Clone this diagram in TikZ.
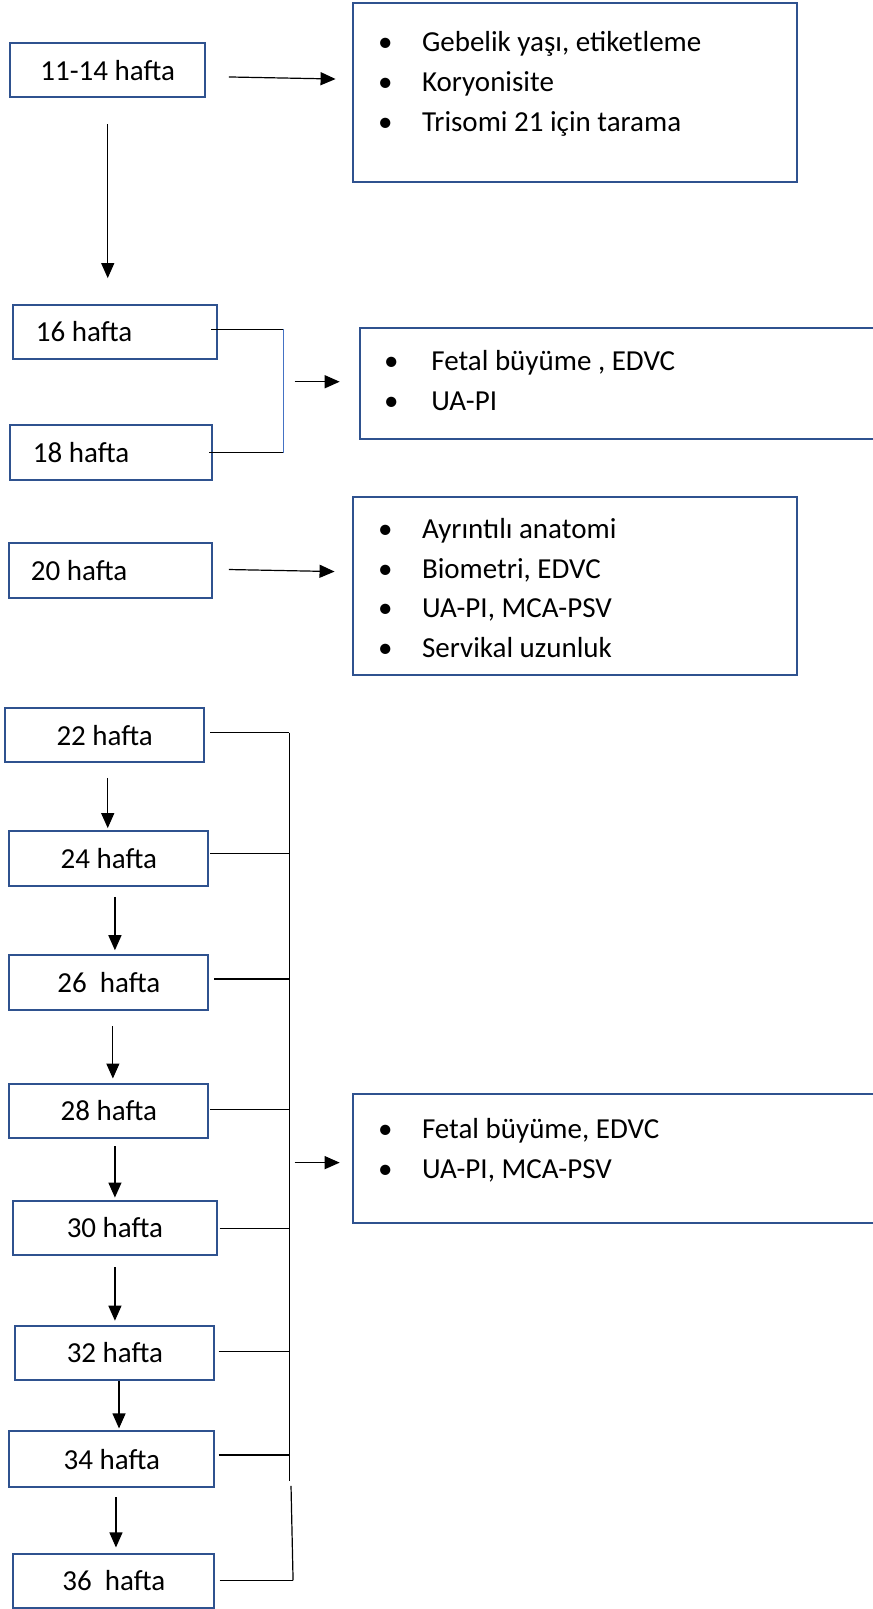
\documentclass[tikz,border=0pt]{standalone}
\usepackage{fontspec}
\setmainfont{Carlito}
\usetikzlibrary{calc,arrows.meta}
\definecolor{boxblue}{RGB}{47,82,143}
\definecolor{linkblue}{RGB}{68,114,196}
\newcommand{\dpx}{0.51295pt}
\begin{document}
\begin{tikzpicture}[x=0.51295pt,y=-0.51295pt,
  font=\fontsize{14.5}{17}\selectfont,
  wbox/.style={draw=boxblue,line width=1pt,inner sep=0pt,minimum height=53*\dpx},
  cbox/.style={wbox,minimum width=#1*\dpx},
  lbox/.style={wbox,inner xsep=#1*\dpx},
  rbox/.style 2 args={draw=boxblue,line width=1pt,inner sep=0pt,minimum width=#1*\dpx,minimum height=#2*\dpx},
  item/.style={anchor=base west,inner sep=0pt},
  link/.style={draw=black,line width=0.6pt},
  arr/.style={link,-{Triangle[length=7.5pt,width=6.5pt]}}]
\useasboundingbox (0,0) rectangle (850,1568);
% ---- 11-14
\node[cbox=190] (a) at (105,68.5) {11-14 hafta};
\node[rbox={433}{174}] (r1) at (560.5,90) {};
\node[item] (r1a) at (368,50) {\makebox[22pt][l]{\textbullet}Gebelik yaşı, etiketleme};
\node[item] (r1b) at (368,89) {\makebox[22pt][l]{\textbullet}Koryonisite};
\node[item] (r1c) at (368,128) {\makebox[22pt][l]{\textbullet}Trisomi 21 için tarama};
\draw[arr] ($(a.east)+(22,6.5)$) -- ($(r1.west)+(-16,-13)$);
% ---- 16 / 18
\node[lbox=22] (b16) at (112,323.5) {\makebox[79pt][l]{16 hafta}};
\node[lbox=22] (b18) at (108.5,441) {\makebox[78.5pt][l]{18 hafta}};
\draw[arr] ($(a.south)+(0,25)$) -- ($(b16.north)+(-7,-25)$);
\coordinate (k1) at (276,321);
\coordinate (k2) at (276,441);
\draw[link] ($(b16.east)+(-6,-2.5)$) -- (k1);
\draw[link] ($(b18.east)+(-4,0)$) -- (k2);
\draw[draw=linkblue,line width=0.6pt] (k1) -- (k2);
\node[rbox={520}{108}] (r2) at (611,374) {};
\node[item] (r2a) at (374,361) {\makebox[23.6pt][l]{\textbullet}Fetal büyüme , EDVC};
\node[item] (r2b) at (374,400) {\makebox[23.6pt][l]{\textbullet}UA-PI};
\coordinate (j2) at (287,372);
\draw[arr] (j2) -- ($(r2.west)+(-19,-2)$);
% ---- 20
\node[lbox=21] (b20) at (108,556) {\makebox[80pt][l]{20 hafta}};
\node[rbox={433}{174}] (r3) at (560.5,571) {};
\node[item] (r3a) at (368,525) {\makebox[22pt][l]{\textbullet}Ayrıntılı anatomi};
\node[item] (r3b) at (368,564) {\makebox[22pt][l]{\textbullet}Biometri, EDVC};
\node[item] (r3c) at (368,602) {\makebox[22pt][l]{\textbullet}UA-PI, MCA-PSV};
\node[item] (r3d) at (368,641) {\makebox[22pt][l]{\textbullet}Servikal uzunluk};
\draw[arr] ($(b20.east)+(15,-1)$) -- ($(r3.west)+(-17,-14)$);
% ---- 22 .. 36
\node[cbox=194] (b22) at (102,716.5) {22 hafta};
\node[cbox=194] (b24) at (106,836.5) {24 hafta};
\node[cbox=194] (b26) at (106,957.5) {26\ \ hafta};
\node[cbox=194] (b28) at (106,1082.5) {28 hafta};
\node[cbox=198] (b30) at (112,1196.5) {30 hafta};
\node[cbox=194] (b32) at (112,1318.5) {32 hafta};
\node[cbox=200,minimum height=54*\dpx] (b34) at (109,1422) {34 hafta};
\node[cbox=196] (b36) at (111,1540.5) {36\ \ hafta};
\draw[arr] ($(b22.south)+(3,14)$) -- ($(b24.north)+(-1,-2)$);
\draw[arr] ($(b24.south)+(6,10)$) -- ($(b26.north)+(6,-4)$);
\draw[arr] ($(b26.south)+(4,15)$) -- ($(b28.north)+(4,-4)$);
\draw[arr] ($(b28.south)+(6,7)$) -- ($(b30.north)+(0,-2)$);
\draw[arr] ($(b30.south)+(0,11)$) -- ($(b32.north)+(0,-4)$);
\draw[arr] ($(b32.south)+(4,0)$) -- ($(b34.north)+(7,-2)$);
\draw[arr] ($(b34.south)+(4,9)$) -- ($(b36.north)+(2,-5)$);
\coordinate (v1) at (282,714);
\coordinate (v2) at (282,1443);
\coordinate (v3) at (283.6,1448);
\coordinate (v4) at (285.6,1540);
\draw[link] (v1) -- (v2);
\draw[link] (v3) -- (v4);
\coordinate (h22) at ($(b22.east)+(5,-2.5)$);
\coordinate (h24) at ($(b24.east)+(1,-4.5)$);
\coordinate (h26) at ($(b26.east)+(5,-3.5)$);
\coordinate (h28) at ($(b28.east)+(1,-1.5)$);
\coordinate (h30) at ($(b30.east)+(2,0.5)$);
\coordinate (h32) at ($(b32.east)+(3,-1.5)$);
\coordinate (h34) at ($(b34.east)+(3,-4)$);
\draw[link] (h22) -- (h22 -| v1);
\draw[link] (h24) -- (h24 -| v1);
\draw[link] (h26) -- (h26 -| v1);
\draw[link] (h28) -- (h28 -| v1);
\draw[link] (h30) -- (h30 -| v1);
\draw[link] (h32) -- (h32 -| v1);
\draw[link] (h34) -- (h34 -| v1);
\draw[link] ($(b36.east)+(4,-0.5)$) -- (v4);
\node[rbox={520}{126}] (r4) at (604,1129) {};
\node[item] (r4a) at (368,1109) {\makebox[22pt][l]{\textbullet}Fetal büyüme, EDVC};
\node[item] (r4b) at (368,1148) {\makebox[22pt][l]{\textbullet}UA-PI, MCA-PSV};
\coordinate (j4) at (287,1133);
\draw[arr] (j4) -- ($(r4.west)+(-12,4)$);
\end{tikzpicture}
\end{document}
